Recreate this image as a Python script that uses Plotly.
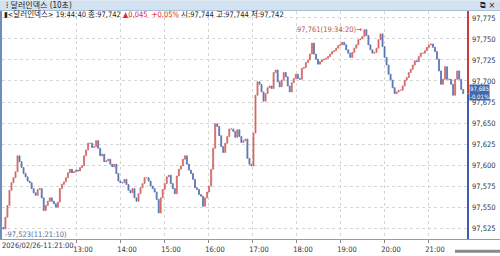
import pandas as pd
import plotly.graph_objects as go

# ---- data (10s chart, resampled every 165 s) ----
start_time = "2026-02-26 11:21:00"
step = "165s"
closes = [
    97.524, 97.538, 97.552, 97.570, 97.579, 97.585, 97.592, 97.611, 97.604, 97.597,
    97.590, 97.586, 97.581, 97.579, 97.572, 97.567, 97.564, 97.571, 97.572, 97.561,
    97.546, 97.552, 97.557, 97.561, 97.557, 97.554, 97.550, 97.556, 97.572, 97.577,
    97.580, 97.585, 97.591, 97.595, 97.591, 97.592, 97.594, 97.593, 97.597, 97.599,
    97.611, 97.618, 97.626, 97.626, 97.621, 97.622, 97.629, 97.620, 97.611, 97.613,
    97.604, 97.605, 97.607, 97.601, 97.598, 97.601, 97.590, 97.581, 97.579, 97.579,
    97.583, 97.577, 97.570, 97.567, 97.572, 97.561, 97.557, 97.566, 97.573, 97.578,
    97.585, 97.585, 97.581, 97.575, 97.572, 97.568, 97.559, 97.543, 97.561, 97.571,
    97.578, 97.586, 97.588, 97.578, 97.572, 97.566, 97.587, 97.595, 97.599, 97.607,
    97.611, 97.601, 97.594, 97.590, 97.583, 97.573, 97.571, 97.565, 97.563, 97.551,
    97.561, 97.568, 97.575, 97.595, 97.620, 97.649, 97.646, 97.635, 97.622, 97.615,
    97.626, 97.634, 97.643, 97.643, 97.640, 97.633, 97.642, 97.634, 97.627, 97.629,
    97.631, 97.608, 97.601, 97.599, 97.638, 97.683, 97.699, 97.696, 97.687, 97.676,
    97.685, 97.692, 97.694, 97.691, 97.710, 97.713, 97.699, 97.693, 97.701, 97.710,
    97.705, 97.694, 97.687, 97.698, 97.703, 97.708, 97.703, 97.702, 97.715, 97.716,
    97.722, 97.725, 97.732, 97.745, 97.732, 97.726, 97.720, 97.723, 97.725, 97.726,
    97.727, 97.729, 97.732, 97.735, 97.736, 97.739, 97.742, 97.743, 97.746, 97.743,
    97.737, 97.733, 97.728, 97.734, 97.739, 97.743, 97.749, 97.750, 97.753, 97.761,
    97.754, 97.743, 97.737, 97.733, 97.734, 97.739, 97.749, 97.756, 97.741, 97.728,
    97.719, 97.708, 97.701, 97.692, 97.685, 97.687, 97.689, 97.689, 97.694, 97.701,
    97.704, 97.710, 97.714, 97.719, 97.724, 97.723, 97.729, 97.733, 97.733, 97.736,
    97.740, 97.743, 97.744, 97.740, 97.735, 97.726, 97.712, 97.696, 97.702, 97.717,
    97.702, 97.702, 97.696, 97.683, 97.702, 97.712, 97.702, 97.690, 97.685,
]
first_open = 97.526

y_ticks = [97.525, 97.550, 97.575, 97.600, 97.625, 97.650, 97.675, 97.700, 97.725, 97.750, 97.775]
x_tick_hours = ["13:00", "14:00", "15:00", "16:00", "17:00", "18:00", "19:00", "20:00", "21:00"]
last_price = 97.685
last_change = "-0.01%"
high_value, high_time = 97.761, "19:34:20"
low_value, low_time = 97.523, "11:21:10"
title_text = "달러인덱스 (10초)"
start_label = "2026/02/26-11:21:00"

times = pd.date_range(start_time, periods=len(closes), freq=step)
opens = [first_open] + closes[:-1]
highs = [max(o, c) for o, c in zip(opens, closes)]
lows = [min(o, c) for o, c in zip(opens, closes)]

RED = "#cf5858"
BLUE = "#4a67aa"
NARROW = "Liberation Sans Narrow, DejaVu Sans Condensed, Liberation Sans, Noto Sans CJK KR"

fig = go.Figure()
fig.add_trace(go.Candlestick(
    x=times, open=opens, high=highs, low=lows, close=closes,
    increasing=dict(line=dict(color=RED, width=0.8), fillcolor=RED),
    decreasing=dict(line=dict(color=BLUE, width=0.8), fillcolor=BLUE),
    opacity=0.9, hoverinfo="skip", showlegend=False,
))

W, H = 500, 256
L, R, T, B = 2, 32, 11, 14
pw, ph = W - L - R, H - T - B


def px(x):
    return (x - L) / pw


def py(y):
    return (H - B - y) / ph


day = "2026-02-26 "
x_range = [day + "11:19:05", day + "21:54:33"]
y_range = [97.5121, 97.7832]

shapes = [
    # title bar
    dict(type="rect", xref="paper", yref="paper", x0=px(0), x1=px(500), y0=py(10.5), y1=py(0),
         fillcolor="#d3e2f0", line=dict(width=0), layer="above"),
    dict(type="line", xref="paper", yref="paper", x0=px(0), x1=px(500), y0=py(10.5), y1=py(10.5),
         line=dict(color="#a9bfd6", width=1)),
    # left border
    dict(type="line", xref="paper", yref="paper", x0=px(1), x1=px(1), y0=py(242), y1=py(11),
         line=dict(color="#6d8cc0", width=2)),
    # x axis line
    dict(type="line", xref="paper", yref="paper", x0=px(0), x1=px(500), y0=py(242.5), y1=py(242.5),
         line=dict(color="#9a9a9a", width=1)),
    # right axis line, red above last price and blue below
    dict(type="line", xref="paper", yref="y", x0=1, x1=1, y0=last_price, y1=y_range[1],
         line=dict(color="#d03a3a", width=2), layer="above"),
    dict(type="line", xref="paper", yref="y", x0=1, x1=1, y0=y_range[0], y1=last_price,
         line=dict(color="#3b5fae", width=2), layer="above"),
    # bottom scrollbar hint
    dict(type="rect", xref="paper", yref="paper", x0=px(455), x1=px(500), y0=py(256), y1=py(253),
         fillcolor="#8a8a8a", line=dict(width=0)),
]

annotations = [
    dict(xref="paper", yref="paper", x=px(4), y=py(5.2), xanchor="left", yanchor="middle",
         text="⁞ " + title_text, showarrow=False, font=dict(size=8, color="#222", family=NARROW)),
    dict(xref="paper", yref="paper", x=px(497), y=py(5.2), xanchor="right", yanchor="middle",
         text="⧉ ×", showarrow=False, font=dict(size=8, color="#222", family="DejaVu Sans")),
    dict(xref="paper", yref="paper", x=px(2), y=py(14.5), xanchor="left", yanchor="middle",
         text=("▮<달러인덱스> 19:44:40 종:97,742 <span style='color:#e02828'>▲0,045  +0,05%</span>"
               " 시:97,744 고:97,744 저:97,742"),
         showarrow=False, font=dict(size=7.5, color="#222", family=NARROW)),
    dict(x=day + high_time, y=high_value, xanchor="right", yanchor="middle", xshift=-1,
         text=f"97,761({high_time})→", showarrow=False,
         font=dict(size=7.5, color="#b8544a", family=NARROW)),
    dict(x=day + low_time, y=low_value, xanchor="left", yanchor="middle", yshift=-5, xshift=-1,
         text=f"-97,523({low_time})", showarrow=False,
         font=dict(size=7.5, color="#4f6e9e", family=NARROW)),
    dict(xref="paper", yref="paper", x=px(0), y=py(248.5), xanchor="left", yanchor="middle",
         text=start_label, showarrow=False, font=dict(size=7.5, color="#333", family=NARROW)),
    dict(xref="paper", x=1, y=last_price, xanchor="left", yanchor="middle", xshift=1, yshift=1.5,
         text="97,685<br>" + last_change, showarrow=False, align="center",
         bgcolor="#4267ad", borderpad=0, font=dict(size=6, color="white", family=NARROW)),
]

fig.update_layout(
    width=W, height=H, margin=dict(l=L, r=R, t=T, b=B, pad=0),
    paper_bgcolor="white", plot_bgcolor="white",
    separators=",.", hovermode=False, showlegend=False,
    shapes=shapes, annotations=annotations,
    xaxis=dict(
        type="date", range=x_range, rangeslider=dict(visible=False),
        tickvals=[day + h for h in x_tick_hours], ticktext=x_tick_hours,
        showgrid=True, gridcolor="#d6d6d6", griddash="dot", gridwidth=1,
        ticks="outside", ticklen=3, tickcolor="#888", ticklabelshift=7,
        tickfont=dict(size=7.5, color="#333", family=NARROW),
        showline=False, zeroline=False, fixedrange=True,
    ),
    yaxis=dict(
        side="right", range=y_range, tickvals=y_ticks, tickformat=".3f",
        showgrid=True, gridcolor="#d6d6d6", griddash="dot", gridwidth=1,
        ticks="", ticklabelstandoff=3,
        tickfont=dict(size=7.5, color="#333", family=NARROW),
        showline=False, zeroline=False, fixedrange=True,
    ),
)

fig.write_html("out.html")
